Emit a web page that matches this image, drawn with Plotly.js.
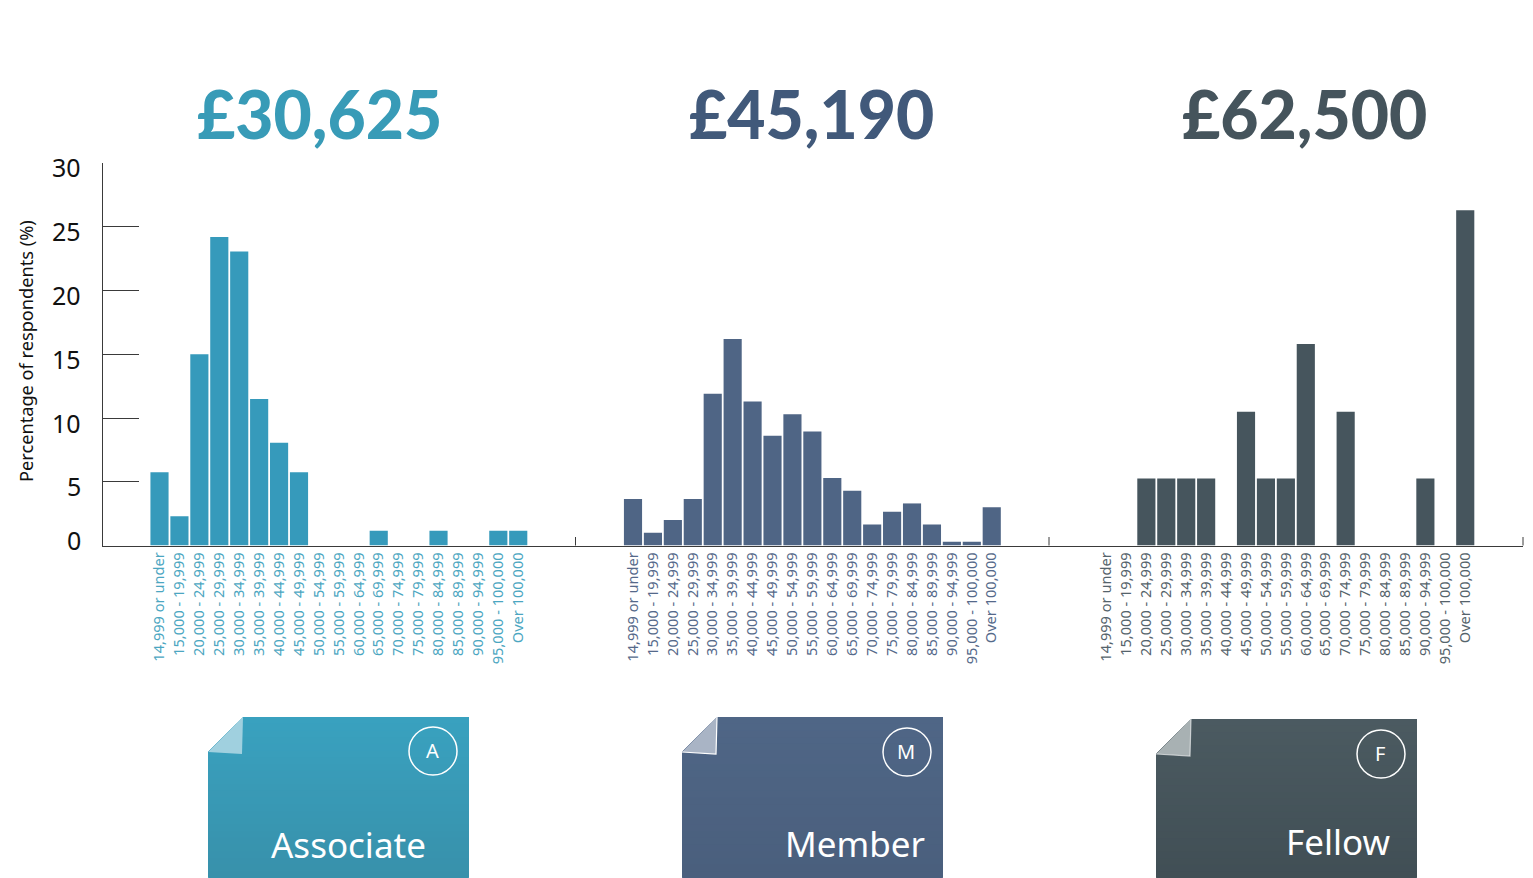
<!DOCTYPE html>
<html><head><meta charset="utf-8">
<script src="https://cdn.plot.ly/plotly-3.0.1.min.js"></script>
<style>html,body{margin:0;padding:0;background:#fff}#c{width:1533px;height:878px}</style>
</head><body><div id="c"></div>
<script>
const salaryBands = ["14,999 or under","15,000 - 19,999","20,000 - 24,999","25,000 - 29,999","30,000 - 34,999","35,000 - 39,999","40,000 - 44,999","45,000 - 49,999","50,000 - 54,999","55,000 - 59,999","60,000 - 64,999","65,000 - 69,999","70,000 - 74,999","75,000 - 79,999","80,000 - 84,999","85,000 - 89,999","90,000 - 94,999","95,000 - 100,000","Over 100,000"];
const associateValues = [5.75,2.3,15,24.2,23.05,11.5,8.05,5.75,0,0,0,1.15,0,0,1.15,0,0,1.15,1.15];
const memberValues = [3.65,1,2,3.65,11.9,16.2,11.3,8.6,10.3,8.95,5.3,4.3,1.65,2.65,3.3,1.65,0.3,0.3,3];
const fellowValues = [0,0,5.26,5.26,5.26,5.26,0,10.5,5.26,5.26,15.8,0,10.5,0,0,0,5.26,0,26.3];
const yTicks = [0,5,10,15,20,25,30];
const medians = ["£30,625","£45,190","£62,500"];
const grades = ["Associate","Member","Fellow"];
const gradeLetters = ["A","M","F"];
const yTitle = "Percentage of respondents (%)";

const W=1533,H=878;
const px=x=>x/W, py=y=>1-y/H;
const FONT='"Noto Sans", "Open Sans", sans-serif';
const panels=[
 {vals:associateValues,bar:'#369abb',tick:'#4ba6c1',title:'#389bb7',x0:102.5,x1:575.5,card:[208,717],top:'#39a1bf',bot:'#3891ab',fold:'#a0d0df',edge:0,cx:433,cy:751,tx:348,ty:844,mx:319},
 {vals:memberValues,bar:'#4f6585',tick:'#55698a',title:'#41597a',x0:575.5,x1:1049,card:[682,717],top:'#4f6686',bot:'#4a5f7d',fold:'#a9b4c5',edge:1,cx:907,cy:752,tx:855,ty:843,mx:811},
 {vals:fellowValues,bar:'#46555d',tick:'#55636b',title:'#45545c',x0:1049,x1:1523,card:[1156,719],top:'#4b5a61',bot:'#414f55',fold:'#a8b1b3',edge:0.6,cx:1381,cy:754,tx:1338,ty:841,mx:1304}
];
const axisColor='#3a3a3a';
const layout={width:W,height:H,margin:{l:0,r:0,t:0,b:0},paper_bgcolor:'#fff',plot_bgcolor:'rgba(0,0,0,0)',showlegend:false,bargap:0.09,
 yaxis:{domain:[py(545.5),py(163)],range:[0,30],tickmode:'array',tickvals:yTicks,showticklabels:false,ticks:'inside',ticklen:36,tickwidth:1,tickcolor:axisColor,
   showline:true,linecolor:axisColor,linewidth:1,showgrid:false,zeroline:false,anchor:'x',position:0,fixedrange:true},
 annotations:[],shapes:[]};
const data=[];
panels.forEach((p,i)=>{
  const ax=i?`xaxis${i+1}`:'xaxis', tr=i?`x${i+1}`:'x';
  const step=19.93, first=[159.5,633,1106.5][i]-p.x0;
  layout[ax]={domain:[px(p.x0),px(p.x1)],anchor:'y',type:'category',categoryorder:'array',categoryarray:salaryBands,
    range:[-first/step,(p.x1-p.x0-first)/step],tickmode:'linear',tick0:0,dtick:1,ticks:'',tickangle:-90,
    tickfont:{family:FONT,size:14.6,color:p.tick},showline:true,linecolor:axisColor,linewidth:1,showgrid:false,zeroline:false,fixedrange:true,ticklabelstandoff:0,automargin:false};
  data.push({type:'bar',x:salaryBands,y:p.vals,xaxis:tr,yaxis:'y',marker:{color:p.bar,line:{width:0}},hoverinfo:'x+y'});
  layout.shapes.push({type:'line',xref:'paper',yref:'paper',x0:px(p.x1),x1:px(p.x1),y0:py(545.5),y1:py(537),line:{color:axisColor,width:1}});
  layout.annotations.push({xref:'paper',yref:'paper',x:px(p.mx),y:py(114),xanchor:'center',yanchor:'middle',showarrow:false,text:medians[i],font:{family:'Lato, sans-serif',size:66,weight:900,color:p.title}});
  const [cx0,cy0]=p.card, cw=261, cb=878, f=35, n=24;
  const hex=c=>[1,3,5].map(k=>parseInt(c.substr(k,2),16));
  const a=hex(p.top),b=hex(p.bot);
  for(let k=0;k<n;k++){
    const t=k/(n-1), y=cy0+(cb-cy0)*k/n;
    const left=y<cy0+f? cx0+f-(y-cy0):cx0;
    let path=`M${px(left)},${py(y)} L${px(cx0+cw)},${py(y)} L${px(cx0+cw)},${py(cb-3)} Q${px(cx0+cw)},${py(cb)} ${px(cx0+cw-3)},${py(cb)} L${px(cx0+3)},${py(cb)} Q${px(cx0)},${py(cb)} ${px(cx0)},${py(cb-3)} `;
    if(y<cy0+f) path+=`L${px(cx0)},${py(cy0+f)} `;
    path+='Z';
    const col=`rgb(${a.map((v,j)=>Math.round(v+(b[j]-v)*t)).join(',')})`;
    layout.shapes.push({type:'path',xref:'paper',yref:'paper',path,fillcolor:col,line:{width:0},layer:'below'});
  }
  layout.shapes.push({type:'path',xref:'paper',yref:'paper',path:`M${px(cx0+f)},${py(cy0)} L${px(cx0)},${py(cy0+f)} L${px(cx0+34)},${py(cy0+37)} Z`,fillcolor:p.fold,line:{width:0},layer:'below'});
  if(p.edge) layout.shapes.push({type:'path',xref:'paper',yref:'paper',path:`M${px(cx0+f)},${py(cy0)} L${px(cx0+34)},${py(cy0+37)} L${px(cx0)},${py(cy0+35)}`,fillcolor:'rgba(0,0,0,0)',line:{color:`rgba(255,255,255,${p.edge})`,width:1.2},layer:'below'});
  layout.shapes.push({type:'circle',xref:'paper',yref:'paper',x0:px(p.cx-24),x1:px(p.cx+24),y0:py(p.cy+24),y1:py(p.cy-24),line:{color:'#fff',width:1.5},fillcolor:'rgba(0,0,0,0)'});
  layout.annotations.push({xref:'paper',yref:'paper',x:px(p.cx-1),y:py(p.cy-1),xanchor:'center',yanchor:'middle',showarrow:false,text:gradeLetters[i],font:{family:FONT,size:20,color:'#fff'}});
  layout.annotations.push({xref:'paper',yref:'paper',x:px(p.tx),y:py(p.ty),xanchor:'center',yanchor:'middle',showarrow:false,text:grades[i],font:{family:FONT,size:35,color:'#fff'}});
});
layout.annotations.push({xref:'paper',yref:'paper',x:px(26),y:py(351),xanchor:'center',yanchor:'middle',textangle:-90,showarrow:false,text:yTitle,font:{family:FONT,size:18.2,color:'#111'}});
yTicks.forEach(v=>{
  layout.annotations.push({xref:'paper',yref:'y',x:px(83),y:v,xanchor:'right',yanchor:'middle',showarrow:false,yshift:v===0?6:-4.5,text:String(v),font:{family:FONT,size:25,color:'#111'}});
});
Plotly.newPlot('c',data,layout,{displayModeBar:false});
</script></body></html>
